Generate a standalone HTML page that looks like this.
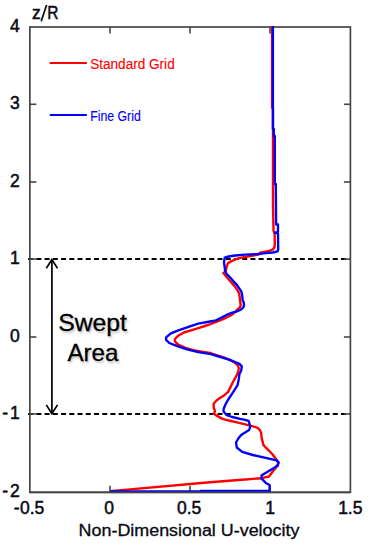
<!DOCTYPE html>
<html><head><meta charset="utf-8"><style>
html,body{margin:0;padding:0;background:#fff;}
body{width:373px;height:550px;overflow:hidden;}
svg{display:block;}
text{font-family:"Liberation Sans",sans-serif;}
</style></head><body>
<svg width="373" height="550" viewBox="0 0 373 550">
<defs><filter id="blur" x="-10%" y="-10%" width="120%" height="120%"><feGaussianBlur stdDeviation="0.9"/></filter></defs>
<rect x="0" y="0" width="373" height="550" fill="#fff"/>
<line x1="41.2" y1="21.3" x2="46.6" y2="5.1" stroke="#0a0a14" stroke-width="1.7"/>
<g stroke="#000" stroke-width="2" fill="none">
<line x1="28.13" y1="259.1" x2="350.4" y2="259.1" stroke-dasharray="5 3.233"/>
<line x1="28.13" y1="413.9" x2="350.4" y2="413.9" stroke-dasharray="5 3.233"/>
</g>
<g stroke="#464646" stroke-width="1.6" fill="none">
<line x1="29.85" y1="104.3" x2="36.35" y2="104.3"/><line x1="350.4" y1="104.3" x2="343.9" y2="104.3"/><line x1="29.85" y1="182.0" x2="36.35" y2="182.0"/><line x1="350.4" y1="182.0" x2="343.9" y2="182.0"/><line x1="29.85" y1="259.1" x2="36.35" y2="259.1"/><line x1="350.4" y1="259.1" x2="343.9" y2="259.1"/><line x1="29.85" y1="337.0" x2="36.35" y2="337.0"/><line x1="350.4" y1="337.0" x2="343.9" y2="337.0"/><line x1="29.85" y1="413.9" x2="36.35" y2="413.9"/><line x1="350.4" y1="413.9" x2="343.9" y2="413.9"/><line x1="110" y1="27.0" x2="110" y2="33.5"/><line x1="110" y1="492.3" x2="110" y2="485.8"/><line x1="190.0" y1="27.0" x2="190.0" y2="33.5"/><line x1="190.0" y1="492.3" x2="190.0" y2="485.8"/><line x1="270.0" y1="27.0" x2="270.0" y2="33.5"/><line x1="270.0" y1="492.3" x2="270.0" y2="485.8"/>
</g>
<rect x="29.85" y="27.0" width="320.54999999999995" height="465.3" fill="none" stroke="#464646" stroke-width="1.7"/>
<polyline points="272.1,26 272.1,107.7 273,109 273,130 273,205 273.5,230.5 274.6,234 274.8,245 274.3,247.5 273,249.3 270,250.6 265.5,251.6 260,252.7 258.2,254.6 244.8,257 238.1,258.4 231.4,261.1 228,263.1 226.7,266.4 226.3,268.8 225.7,271.4 223.4,273 225.2,275.2 227.9,278.4 231.1,282.2 234.8,286.4 237.5,290.2 239.1,293.4 239.7,297.2 240.2,301.5 240.7,305.2 239.7,307.4 237.5,309.5 234.8,312.2 230.6,315.5 222.5,319.5 216.1,321.9 209.7,324.3 204.8,326 200,327.6 191.8,330.1 183.8,332.5 178.2,335.7 174.9,339 174.9,341.4 178.2,344.6 185.4,347.8 193.4,350.2 201.5,351.8 210,353 217.1,355.4 223.1,357.2 229.1,359.7 234,362.1 237.6,365.1 238.8,368.1 238.2,371.7 236.4,375.9 234,380.2 232.1,383.8 230.3,387.4 227.9,392.2 224.3,395.2 219.5,398.3 217.1,400 213.7,403.5 213.7,407.6 215,411.1 213.9,413.8 217.2,415.9 221.4,418.4 225,419.6 231,421 237.1,422.3 243.1,423.8 249.1,425.4 254,426.6 257.6,427.8 260,430.1 261.2,433.1 261.6,437.9 263.6,445.4 267.9,449.7 272.2,454 275.4,458.3 278.6,462.5 276.5,466.8 272.2,472.2 269,476.5 261.5,478.2 242.2,479.7 210,482.2 118.8,490.4 110,491.3" fill="none" stroke="#ff0000" stroke-width="2.4" stroke-linejoin="round"/>
<polyline points="272.9,26 272.9,129 273.8,129 273.8,136 274.8,136 274.8,184 275.8,184 276.1,224.5 278,224.5 278,232 275,232.6 278,233.6 278.2,249.5 277.6,251.3 272.9,252.5 265.5,253.1 258.2,254.1 244.8,254.7 235.4,255.5 228.7,256.5 224.7,257.7 224,262.4 224.4,265 225.2,271.4 226.8,274.1 230,277.3 233.2,281.1 236.4,284.3 239.1,288.1 241.3,291.3 242.3,296.1 242.7,300.9 243.7,302 244,305.8 242.9,307.9 240.2,310 236.4,311.6 232.2,312.7 227.9,314.3 222.5,317.1 216.1,320.3 210,321.5 198.3,323.7 188.6,326.9 179,330.1 170.9,333.3 166.1,337.3 166.1,339.8 169.3,343 177.3,346.2 187,349.4 198.3,352.1 206.3,353.4 211,354.2 217.1,356 223.1,357.8 229.1,359.7 235.2,362.1 239.4,363.9 241.8,366.3 241.2,370.5 239.4,374.1 238.8,379 237.6,385 234.6,389.8 231.5,394.6 227.9,400 225.2,405 223.6,409 223.6,411.6 226.3,414.8 232.2,417 240,418.9 244,419.6 248.6,420.9 250.3,426.5 249.1,430.1 243.1,433.7 240.7,435.5 238.3,438.5 236,442.5 236.8,447.5 242.2,451.8 252.9,455 267.9,458.3 276.5,460.4 278.6,462.5 277.6,465.8 272.2,469 266.8,472.2 261.5,475.4 261.5,478.6 265.8,482.9 269.6,485.1 269.6,490.8 201,490.8 200,491.4 110,491.4" fill="none" stroke="#0000ff" stroke-width="2.35" stroke-linejoin="round"/>
<line x1="29.85" y1="492.3" x2="350.4" y2="492.3" stroke="#464646" stroke-width="1.7"/>
<g stroke="#000" stroke-width="1.7" fill="none" stroke-linecap="butt">
<line x1="51.9" y1="259.9" x2="51.9" y2="413.8"/>
<polyline points="46.3,268.3 51.9,259.6 57.5,268.3"/>
<polyline points="46.3,404.9 51.9,413.6 57.5,404.9"/>
</g>
<g font-size="17.5" fill="#0a0a14" stroke="#0a0a14" stroke-width="0.5">
<text x="19.8" y="31.95" text-anchor="end">4</text><text x="19.8" y="109.10" text-anchor="end">3</text><text x="19.8" y="187.00" text-anchor="end">2</text><text x="19.8" y="264.40" text-anchor="end">1</text><text x="19.8" y="342.00" text-anchor="end">0</text><text x="19.8" y="419.40" text-anchor="end">-<tspan dx="2">1</tspan></text><text x="19.8" y="497.35" text-anchor="end">-<tspan dx="2">2</tspan></text>
<text x="29.0" y="513.9" text-anchor="middle">-<tspan dx="0.5">0.5</tspan></text><text x="109.2" y="513.9" text-anchor="middle">0</text><text x="189.1" y="513.9" text-anchor="middle">0.5</text><text x="270.0" y="513.9" text-anchor="middle">1</text><text x="350.3" y="513.9" text-anchor="middle">1.5</text>
<text x="31.9" y="18.5">z</text><text x="47.2" y="18.5" textLength="11.2" lengthAdjust="spacingAndGlyphs">R</text>
</g>
<text x="78.6" y="535.6" font-size="15.8" fill="#0a0a14" stroke="#0a0a14" stroke-width="0.3" textLength="220.8" lengthAdjust="spacingAndGlyphs">Non-Dimensional U-velocity</text>
<g font-size="24" fill="#bbb" filter="url(#blur)" transform="translate(1.3,1.3)">
<text x="58.2" y="331.3" textLength="68.8" lengthAdjust="spacingAndGlyphs">Swept</text>
<text x="67.4" y="361.4" textLength="51" lengthAdjust="spacingAndGlyphs">Area</text>
</g>
<g font-size="24" fill="#000" stroke="#000" stroke-width="0.3">
<text x="58.2" y="331.3" textLength="68.8" lengthAdjust="spacingAndGlyphs">Swept</text>
<text x="67.4" y="361.4" textLength="51" lengthAdjust="spacingAndGlyphs">Area</text>
</g>
<line x1="49.7" y1="62.9" x2="86.9" y2="62.9" stroke="#ff0000" stroke-width="2"/>
<text x="90.2" y="68.7" font-size="14" fill="#ff0000" stroke="#ff0000" stroke-width="0.12" textLength="84.5" lengthAdjust="spacingAndGlyphs">Standard Grid</text>
<line x1="49.8" y1="115.1" x2="86.9" y2="115.1" stroke="#0000ff" stroke-width="2"/>
<text x="90.2" y="120.6" font-size="14" fill="#0000ff" stroke="#0000ff" stroke-width="0.12" textLength="50.6" lengthAdjust="spacingAndGlyphs">Fine Grid</text>
</svg>
</body></html>
